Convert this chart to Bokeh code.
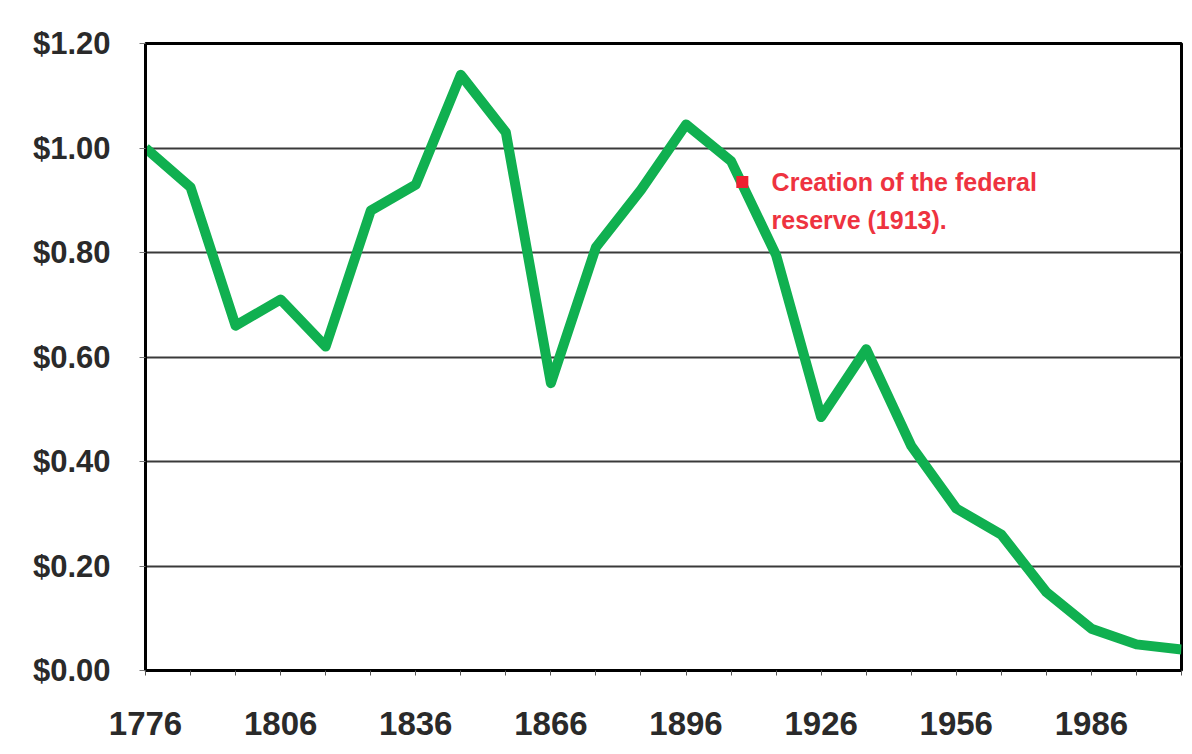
from bokeh.plotting import figure
from bokeh.models import ColumnDataSource, FixedTicker, NumeralTickFormatter, Range1d
from bokeh.core.properties import value
from bokeh.embed import file_html
from bokeh.resources import INLINE

years = [1776, 1786, 1796, 1806, 1816, 1826, 1836, 1846, 1856, 1866, 1876, 1886,
         1896, 1906, 1916, 1926, 1936, 1946, 1956, 1966, 1976, 1986, 1996, 2006]
dollar_value = [1.00, 0.925, 0.66, 0.71, 0.62, 0.88, 0.93, 1.14, 1.03, 0.55, 0.81, 0.92,
                1.045, 0.975, 0.795, 0.485, 0.615, 0.43, 0.31, 0.26, 0.15, 0.08, 0.05, 0.04]
label_years = [1776, 1806, 1836, 1866, 1896, 1926, 1956, 1986]
y_ticks = [0.0, 0.2, 0.4, 0.6, 0.8, 1.0, 1.2]

marker_x = [1908.5]
marker_y = [0.935]
note_x = [1915.0, 1915.0]
note_y = [0.935, 0.862]
note_text = ["Creation of the federal", "reserve (1913)."]

FONT = "Liberation Sans"

p = figure(width=1184, height=746, output_backend="svg", toolbar_location=None,
           x_range=Range1d(1776, 2006), y_range=Range1d(0, 1.2),
           min_border_left=145, min_border_right=3, min_border_top=43, min_border_bottom=76)
p.background_fill_color = "white"
p.border_fill_color = "white"
p.outline_line_color = "black"
p.outline_line_width = 3

# grid
p.xgrid.grid_line_color = None
p.ygrid.grid_line_color = "#3a3a3a"
p.ygrid.grid_line_width = 2

# x axis
p.xaxis.ticker = FixedTicker(ticks=years)
p.xaxis.major_label_overrides = {y: (str(y) if y in label_years else "") for y in years}
p.xaxis.minor_tick_line_color = None
p.xaxis.major_tick_in = 0
p.xaxis.major_tick_out = 5
p.xaxis.major_tick_line_color = "#555555"
p.xaxis.major_tick_line_width = 1
p.xaxis.axis_line_color = "black"
p.xaxis.axis_line_width = 3
p.xaxis.major_label_standoff = 36
p.xaxis.major_label_text_font = FONT
p.xaxis.major_label_text_font_style = "bold"
p.xaxis.major_label_text_font_size = "33px"
p.xaxis.major_label_text_color = "#2a2a2a"

# y axis
p.yaxis.ticker = FixedTicker(ticks=y_ticks)
p.yaxis.formatter = NumeralTickFormatter(format="$0.00")
p.yaxis.minor_tick_line_color = None
p.yaxis.major_tick_in = 0
p.yaxis.major_tick_out = 6
p.yaxis.major_tick_line_color = "#777777"
p.yaxis.axis_line_color = "black"
p.yaxis.axis_line_width = 3
p.yaxis.major_label_standoff = 29
p.yaxis.major_label_text_font = FONT
p.yaxis.major_label_text_font_style = "bold"
p.yaxis.major_label_text_font_size = "31px"
p.yaxis.major_label_text_color = "#2a2a2a"

src = ColumnDataSource(data=dict(x=years, y=dollar_value))
p.line("x", "y", source=src, line_color="#10b050", line_width=10, line_join="round")

p.scatter(marker_x, marker_y, marker="square", size=12, fill_color="#ee2030", line_color=None)
p.text(note_x, note_y, text=note_text, text_font=value(FONT), text_font_style="bold",
       text_font_size="25px", text_color="#ee3340", text_baseline="middle", text_align="left")

open("out.html", "w").write(file_html(p, INLINE))
